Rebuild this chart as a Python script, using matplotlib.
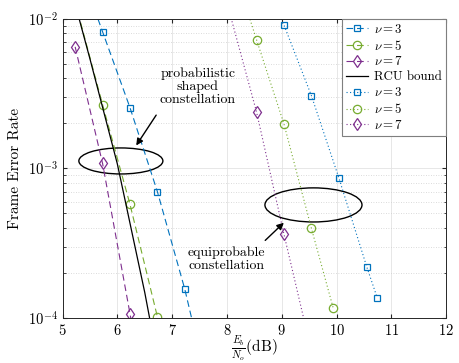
import numpy as np
import matplotlib
matplotlib.use("Agg")
import matplotlib.pyplot as plt
from matplotlib.patches import Ellipse

plt.rcParams['font.family'] = 'serif'
plt.rcParams['font.serif'] = ['cmr10']
plt.rcParams['mathtext.fontset'] = 'cm'
plt.rcParams['axes.formatter.use_mathtext'] = True
plt.rcParams['font.size'] = 10

# probabilistic shaped constellation (dashed)
snr_ps = [5.23, 5.73, 6.23, 6.73, 7.23, 7.73]
fer_ps_nu3 = [2.65e-2, 8.2e-3, 2.55e-3, 7.0e-4, 1.56e-4, 2.6e-5]
fer_ps_nu5 = [1.29e-2, 2.67e-3, 5.76e-4, 1.02e-4, 1.5e-5, np.nan]
fer_ps_nu7 = [6.5e-3, 1.08e-3, 1.07e-4, 1.0e-5, np.nan, np.nan]

# RCU bound
snr_rcu = [5.2, 5.5, 6.0, 6.5, 7.0]
fer_rcu = [1.38e-2, 5.4e-3, 1.07e-3, 1.48e-4, 1.6e-5]

# equiprobable constellation (dotted)
snr_eq_nu3 = [8.54, 9.04, 9.54, 10.04, 10.55, 10.74]
fer_eq_nu3 = [2.7e-2, 9.1e-3, 3.07e-3, 8.67e-4, 2.2e-4, 1.37e-4]
snr_eq_nu5 = [8.04, 8.54, 9.04, 9.54, 9.94]
fer_eq_nu5 = [2.7e-2, 7.24e-3, 1.98e-3, 3.98e-4, 1.16e-4]
snr_eq_nu7 = [8.04, 8.54, 9.04, 9.54]
fer_eq_nu7 = [1.13e-2, 2.38e-3, 3.63e-4, 6.0e-5]

labels = [r'$\nu = 3$', r'$\nu = 5$', r'$\nu = 7$']
blue = '#0072BD'
green = '#77AC30'
purple = '#7E2F8E'

fig = plt.figure(figsize=(4.6, 3.63), dpi=100)
ax = fig.add_axes([0.136, 0.124, 0.834, 0.824])

lw = 0.8
dash = (6, 3.5)
dot = (1, 2.2)
sq = dict(marker='s', ms=5, mfc='none', mew=0.9)
ci = dict(marker='o', ms=6, mfc='none', mew=0.9)
di = dict(marker='d', ms=6.5, mfc='none', mew=0.9)
ax.plot(snr_ps, fer_ps_nu3, color=blue, lw=lw, dashes=dash, label=labels[0], **sq)
ax.plot(snr_ps, fer_ps_nu5, color=green, lw=lw, dashes=dash, label=labels[1], **ci)
ax.plot(snr_ps, fer_ps_nu7, color=purple, lw=lw, dashes=dash, label=labels[2], **di)
ax.plot(snr_rcu, fer_rcu, color='black', lw=0.9, label='RCU bound')
ax.plot(snr_eq_nu3, fer_eq_nu3, color=blue, lw=lw, dashes=dot, label=labels[0], **sq)
ax.plot(snr_eq_nu5, fer_eq_nu5, color=green, lw=lw, dashes=dot, label=labels[1], **ci)
ax.plot(snr_eq_nu7, fer_eq_nu7, color=purple, lw=lw, dashes=dot, label=labels[2], **di)

ax.set_yscale('log')
ax.set_xlim(5, 12)
ax.set_ylim(1e-4, 1e-2)
ax.set_xticks(range(5, 13))
ax.grid(True, which='major', color='#e3e3e3', lw=0.6)
ax.grid(True, which='minor', axis='y', color='#cfcfcf', lw=0.6, ls=(0, (1, 2)))
ax.set_axisbelow(True)
ax.tick_params(which='both', direction='in', top=True, right=True, colors='#262626',
               labelcolor='black', labelsize=10.5)
ax.tick_params(which='major', length=3)
ax.tick_params(which='minor', length=1.8)
for s in ax.spines.values():
    s.set_color('#262626')
    s.set_linewidth(0.7)

ax.set_xlabel(r'$\frac{E_b}{N_o}$(dB)', fontsize=11)
ax.xaxis.set_label_coords(0.5, -0.054)
ax.set_ylabel('Frame Error Rate', fontsize=11, labelpad=4)

leg = ax.legend(loc='upper right', borderaxespad=0, fancybox=False, framealpha=1,
                edgecolor='#7f7f7f', handlelength=1.7, handletextpad=0.5,
                labelspacing=0.22, borderpad=0.3, fontsize=9.3)
leg.get_frame().set_linewidth(0.8)

ax.add_patch(Ellipse((0.152, 0.525), 0.219, 0.087, transform=ax.transAxes,
                     fill=False, ec='black', lw=1))
ax.add_patch(Ellipse((0.654, 0.378), 0.253, 0.114, transform=ax.transAxes,
                     fill=False, ec='black', lw=1))
ax.annotate('', xy=(0.188, 0.569), xytext=(0.248, 0.686), xycoords='axes fraction',
            arrowprops=dict(arrowstyle='-|>', color='black', lw=1, mutation_scale=10))
ax.annotate('', xy=(0.582, 0.325), xytext=(0.523, 0.253), xycoords='axes fraction',
            arrowprops=dict(arrowstyle='-|>', color='black', lw=1, mutation_scale=10))
ax.text(0.353, 0.773, 'probabilistic\nshaped\nconstellation', transform=ax.transAxes,
        ha='center', va='center', fontsize=10, linespacing=1.1)
ax.text(0.428, 0.196, 'equiprobable\nconstellation', transform=ax.transAxes,
        ha='center', va='center', fontsize=10, linespacing=1.1)

fig.savefig('out.png', dpi=100)
